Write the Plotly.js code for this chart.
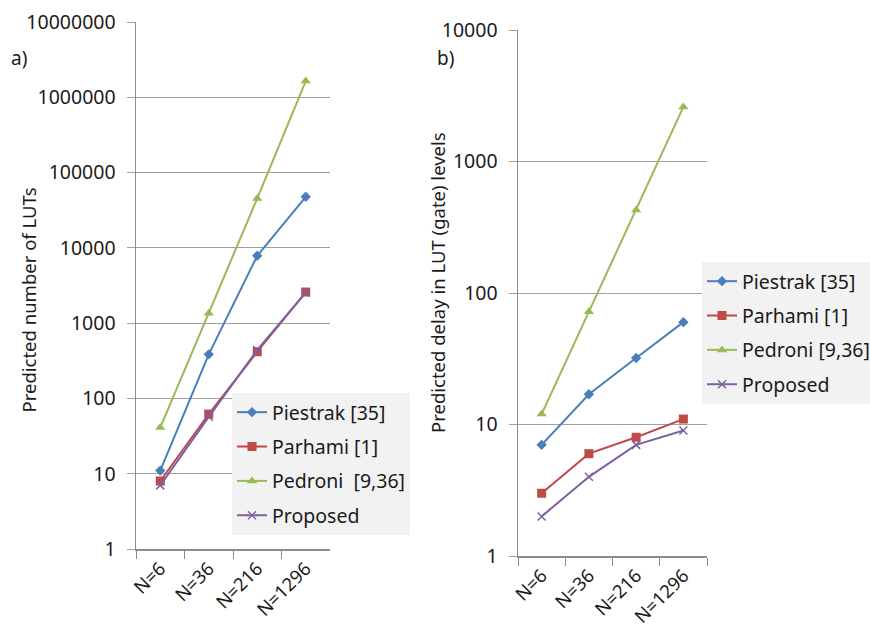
<!DOCTYPE html>
<html>
<head>
<meta charset="utf-8">
<script src="https://cdn.plot.ly/plotly-3.0.1.min.js"></script>
<style>html,body{margin:0;padding:0;background:#fff;}#chart{width:870px;height:630px;}</style>
</head>
<body>
<div id="chart"></div>
<script>
const categories = ['N=6', 'N=36', 'N=216', 'N=1296'];
const seriesNames = ['Piestrak [35]', 'Parhami [1]', 'Pedroni\u00a0\u00a0[9,36]', 'Proposed'];
const seriesNamesB = ['Piestrak [35]', 'Parhami [1]', 'Pedroni [9,36]', 'Proposed'];

// a) predicted number of LUTs
const lutPiestrak = [11, 385, 7850, 47700];
const lutParhami = [8, 62, 417, 2590];
const lutPedroni = [41, 1350, 45400, 1640000];
const lutProposed = [7, 57, 440, 2550];

// b) predicted delay in LUT (gate) levels
const delayPiestrak = [7, 17, 32, 60];
const delayParhami = [3, 6, 8, 11];
const delayPedroni = [12, 72, 427, 2600];
const delayProposed = [2, 4, 7, 9];

const lutTickVals = [1, 10, 100, 1000, 10000, 100000, 1000000, 10000000];
const lutTickText = ['1', '10', '100', '1000', '10000', '100000', '1000000', '10000000'];
const delayTickVals = [1, 10, 100, 1000, 10000];
const delayTickText = ['1', '10', '100', '1000', '10000'];

const FONT = '"Noto Sans", "Liberation Sans", Arial, sans-serif';
const TXT = '#1a1a1a';
const W = 870, H = 630;
const colors = ['#4a7ebb', '#be4b48', '#98b954', '#7d60a0'];
const markers = [
  {symbol: 'diamond', size: 8},
  {symbol: 'square', size: 9},
  {symbol: 'triangle-up', size: 9},
  {symbol: 'x-thin', size: 8}
];

function mk(i, y, xa, ya, legend, names, grp) {
  const m = {symbol: markers[i].symbol, size: markers[i].size, color: colors[i]};
  if (markers[i].symbol === 'x-thin') m.line = {color: colors[i], width: 1.5};
  return {
    type: 'scatter', mode: 'lines+markers',
    x: categories, y: y, xaxis: xa, yaxis: ya,
    name: names[i], legend: legend, legendgroup: grp + i,
    line: {color: colors[i], width: 2},
    marker: m
  };
}

const data = [
  mk(0, lutPiestrak, 'x', 'y', 'legend', seriesNames, 'a'),
  mk(1, lutParhami, 'x', 'y', 'legend', seriesNames, 'a'),
  mk(2, lutPedroni, 'x', 'y', 'legend', seriesNames, 'a'),
  mk(3, lutProposed, 'x', 'y', 'legend', seriesNames, 'a'),
  mk(0, delayPiestrak, 'x2', 'y2', 'legend2', seriesNamesB, 'b'),
  mk(1, delayParhami, 'x2', 'y2', 'legend2', seriesNamesB, 'b'),
  mk(2, delayPedroni, 'x2', 'y2', 'legend2', seriesNamesB, 'b'),
  mk(3, delayProposed, 'x2', 'y2', 'legend2', seriesNamesB, 'b')
];

function xax(dom, anchor) {
  return {
    domain: dom, anchor: anchor, type: 'category', range: [-0.5, 3.5],
    tickson: 'boundaries', ticks: 'outside', ticklen: 8, tickcolor: '#8c8c8c', tickwidth: 1,
    showline: true, linecolor: '#8c8c8c', linewidth: 1.5, showgrid: false, zeroline: false,
    tickangle: -45, tickfont: {family: FONT, size: 18.5, color: TXT}, fixedrange: true
  };
}
function yax(dom, anchor, range, vals, text) {
  return {
    domain: dom, anchor: anchor, type: 'log', range: range,
    tickmode: 'array', tickvals: vals, ticktext: text,
    ticks: 'outside', ticklen: 8, tickcolor: '#a0a0a0', tickwidth: 1,
    showgrid: true, gridcolor: '#a0a0a0', gridwidth: 1,
    showline: true, linecolor: '#8c8c8c', linewidth: 1.5, zeroline: false,
    ticklabelstandoff: 7,
    tickfont: {family: FONT, size: 19.5, color: TXT}, fixedrange: true
  };
}

const legendStyle = (x, y) => ({
  x: x, y: y, xref: 'paper', yref: 'paper', xanchor: 'left', yanchor: 'top',
  bgcolor: '#f2f2f2', borderwidth: 0, traceorder: 'grouped', tracegroupgap: 6,
  font: {family: FONT, size: 19.5, color: TXT},
  itemclick: false, itemdoubleclick: false
});

const layout = {
  width: W, height: H,
  margin: {l: 0, r: 0, t: 0, b: 0, autoexpand: false},
  paper_bgcolor: '#fff', plot_bgcolor: '#fff',
  showlegend: true,
  xaxis: xax([136 / W, 330 / W], 'y'),
  yaxis: yax([1 - 549 / H, 1 - 22 / H], 'x', [0, 7], lutTickVals, lutTickText),
  xaxis2: xax([518 / W, 707 / W], 'y2'),
  yaxis2: yax([1 - 556 / H, 1 - 30 / H], 'x2', [0, 4], delayTickVals, delayTickText),
  legend: legendStyle(232 / W, 1 - 393 / H),
  legend2: legendStyle(702 / W, 1 - 262 / H),
  annotations: [
    {text: 'a)', x: 9 / W, y: 1 - 58 / H, xref: 'paper', yref: 'paper', xanchor: 'left', yanchor: 'middle', showarrow: false, font: {family: FONT, size: 19, color: TXT}},
    {text: 'b)', x: 435 / W, y: 1 - 58 / H, xref: 'paper', yref: 'paper', xanchor: 'left', yanchor: 'middle', showarrow: false, font: {family: FONT, size: 19, color: TXT}},
    {text: 'Predicted number of LUTs', x: 27.5 / W, y: 1 - 300 / H, xref: 'paper', yref: 'paper', xanchor: 'center', yanchor: 'middle', textangle: -90, showarrow: false, font: {family: FONT, size: 18.5, color: TXT}},
    {text: 'Predicted delay in LUT (gate) levels', x: 437 / W, y: 1 - 283 / H, xref: 'paper', yref: 'paper', xanchor: 'center', yanchor: 'middle', textangle: -90, showarrow: false, font: {family: FONT, size: 18.5, color: TXT}}
  ]
};

Plotly.newPlot('chart', data, layout, {displayModeBar: false, staticPlot: true});
</script>
</body>
</html>
